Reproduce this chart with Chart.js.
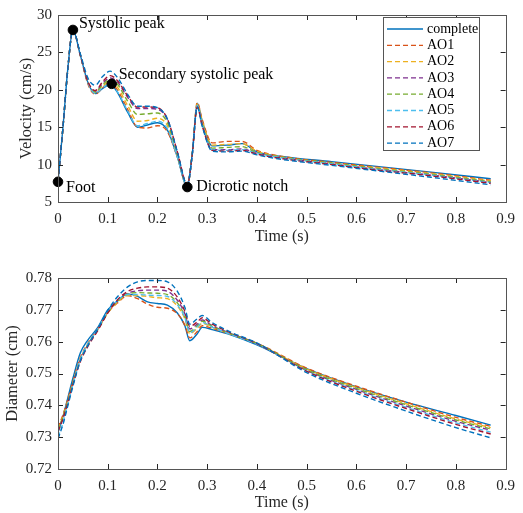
<!DOCTYPE html>
<html>
<head>
<meta charset="utf-8">
<script src="https://cdn.jsdelivr.net/npm/chart.js@4.4.0/dist/chart.umd.min.js"></script>
<style>
  body { margin: 0; background: #fff; }
  canvas { position: absolute; left: 0; }
  #velocityChart { top: 0; }
  #diameterChart { top: 250px; }
</style>
</head>
<body>
<canvas id="velocityChart" width="523" height="250"></canvas>
<canvas id="diameterChart" width="523" height="263"></canvas>
<script>
// series names / colours (MATLAB default order)
const seriesNames = ['complete', 'AO1', 'AO2', 'AO3', 'AO4', 'AO5', 'AO6', 'AO7'];
const seriesColors = ['#0072BD', '#D95319', '#EDB120', '#7E2F8E', '#77AC30', '#4DBEEE', '#A2142F', '#0072BD'];

// velocity (cm/s) vs time (s)
const timeV = [0, 0.01, 0.02, 0.03, 0.045, 0.06, 0.075, 0.09, 0.105, 0.12, 0.14, 0.16, 0.18, 0.2, 0.22, 0.24, 0.26, 0.27, 0.28, 0.29, 0.31, 0.34, 0.37, 0.4, 0.45, 0.55, 0.65, 0.75, 0.87];
const velComplete = [7.7, 15.0, 23.0, 28.0, 24.6, 21.0, 19.5, 20.2, 20.7, 19.6, 17.0, 15.0, 15.3, 15.6, 14.6, 11.0, 7.0, 11.5, 18.2, 15.8, 12.5, 12.6, 12.8, 11.7, 11.1, 10.4, 9.7, 9.0, 8.1];
const velAO1 = [7.7, 15.0, 23.0, 28.0, 24.6, 20.8, 19.4, 20.3, 20.9, 19.9, 17.4, 15.0, 14.9, 15.2, 14.4, 11.0, 7.1, 11.5, 18.3, 16.0, 12.9, 13.1, 13.1, 11.9, 11.1, 10.3, 9.6, 8.9, 7.9];
const velAO2 = [7.7, 15.0, 23.0, 28.0, 24.6, 21.0, 19.6, 20.5, 21.1, 20.3, 17.9, 15.8, 15.9, 16.2, 15.2, 11.2, 7.2, 11.5, 18.1, 15.8, 12.6, 12.7, 12.8, 11.8, 11.0, 10.2, 9.5, 8.8, 7.8];
const velAO3 = [7.7, 15.0, 23.0, 28.0, 24.6, 21.0, 19.8, 20.9, 21.6, 21.0, 19.0, 17.5, 17.5, 17.4, 16.0, 11.6, 7.3, 11.4, 17.8, 15.3, 12.0, 12.0, 12.1, 11.5, 10.9, 10.1, 9.3, 8.6, 7.6];
const velAO4 = [7.7, 15.0, 23.0, 28.0, 24.6, 21.0, 19.7, 20.7, 21.4, 20.7, 18.5, 16.7, 16.8, 16.9, 15.6, 11.4, 7.2, 11.5, 17.9, 15.5, 12.2, 12.3, 12.4, 11.6, 11.0, 10.2, 9.4, 8.7, 7.7];
const velAO5 = [7.7, 15.0, 23.0, 28.0, 24.6, 21.0, 19.5, 20.3, 20.8, 19.7, 17.2, 15.2, 15.5, 15.8, 14.8, 11.0, 7.1, 11.4, 17.9, 15.4, 12.0, 11.9, 12.0, 11.5, 10.9, 10.1, 9.3, 8.6, 7.6];
const velAO6 = [7.7, 15.0, 23.0, 28.0, 24.6, 21.1, 19.9, 21.1, 21.9, 21.2, 19.2, 17.7, 17.7, 17.6, 16.1, 11.7, 7.3, 11.4, 17.7, 15.2, 11.9, 11.8, 11.9, 11.4, 10.8, 10.0, 9.2, 8.5, 7.5];
const velAO7 = [7.7, 15.0, 23.0, 28.0, 24.8, 21.6, 20.6, 21.8, 22.5, 21.6, 19.4, 17.8, 17.8, 17.6, 16.1, 11.7, 7.3, 11.4, 17.7, 15.1, 11.8, 11.7, 11.8, 11.3, 10.7, 9.9, 9.1, 8.3, 7.3];

// annotated points on the velocity curve
const markLabels = ['Foot', 'Systolic peak', 'Secondary systolic peak', 'Dicrotic notch'];
const markTime = [0, 0.03, 0.108, 0.26];
const markVel = [7.7, 28.0, 20.8, 7.0];

// diameter (cm) vs time (s)
const timeD = [0, 0.01, 0.02, 0.03, 0.045, 0.06, 0.08, 0.1, 0.12, 0.14, 0.16, 0.18, 0.2, 0.22, 0.24, 0.255, 0.265, 0.28, 0.29, 0.31, 0.35, 0.4, 0.5, 0.6, 0.7, 0.8, 0.87];
const diaComplete = [0.7315, 0.7365, 0.7425, 0.7485, 0.7565, 0.7605, 0.7645, 0.7700, 0.7728, 0.7750, 0.7742, 0.7725, 0.7720, 0.7715, 0.7690, 0.7650, 0.7603, 0.7625, 0.7645, 0.7638, 0.7620, 0.7590, 0.7515, 0.7458, 0.7410, 0.7368, 0.7338];
const diaAO1 = [0.7330, 0.7370, 0.7420, 0.7475, 0.7550, 0.7595, 0.7640, 0.7692, 0.7722, 0.7745, 0.7735, 0.7718, 0.7708, 0.7705, 0.7688, 0.7652, 0.7612, 0.7632, 0.7650, 0.7642, 0.7622, 0.7595, 0.7517, 0.7460, 0.7410, 0.7362, 0.7334];
const diaAO2 = [0.7325, 0.7365, 0.7415, 0.7470, 0.7545, 0.7592, 0.7638, 0.7690, 0.7725, 0.7745, 0.7745, 0.7742, 0.7738, 0.7735, 0.7712, 0.7672, 0.7625, 0.7642, 0.7658, 0.7645, 0.7622, 0.7594, 0.7514, 0.7456, 0.7405, 0.7357, 0.7330];
const diaAO3 = [0.7320, 0.7360, 0.7410, 0.7468, 0.7542, 0.7588, 0.7638, 0.7692, 0.7730, 0.7752, 0.7760, 0.7762, 0.7762, 0.7758, 0.7730, 0.7688, 0.7640, 0.7655, 0.7668, 0.7650, 0.7624, 0.7594, 0.7510, 0.7450, 0.7398, 0.7350, 0.7322];
const diaAO4 = [0.7322, 0.7362, 0.7412, 0.7470, 0.7544, 0.7590, 0.7638, 0.7691, 0.7728, 0.7750, 0.7754, 0.7753, 0.7752, 0.7748, 0.7722, 0.7680, 0.7632, 0.7650, 0.7664, 0.7648, 0.7623, 0.7594, 0.7512, 0.7453, 0.7402, 0.7354, 0.7326];
const diaAO5 = [0.7300, 0.7345, 0.7405, 0.7465, 0.7545, 0.7592, 0.7640, 0.7695, 0.7730, 0.7748, 0.7748, 0.7746, 0.7745, 0.7742, 0.7716, 0.7676, 0.7628, 0.7646, 0.7660, 0.7646, 0.7621, 0.7592, 0.7508, 0.7447, 0.7394, 0.7345, 0.7316];
const diaAO6 = [0.7318, 0.7358, 0.7408, 0.7465, 0.7538, 0.7585, 0.7635, 0.7690, 0.7732, 0.7758, 0.7768, 0.7772, 0.7772, 0.7768, 0.7740, 0.7695, 0.7648, 0.7662, 0.7675, 0.7655, 0.7626, 0.7594, 0.7507, 0.7444, 0.7390, 0.7340, 0.7310];
const diaAO7 = [0.7295, 0.7340, 0.7400, 0.7460, 0.7540, 0.7588, 0.7640, 0.7698, 0.7742, 0.7772, 0.7788, 0.7792, 0.7792, 0.7788, 0.7758, 0.7708, 0.7655, 0.7672, 0.7682, 0.7660, 0.7628, 0.7596, 0.7503, 0.7438, 0.7382, 0.7330, 0.7298];

const velSeries = [velComplete, velAO1, velAO2, velAO3, velAO4, velAO5, velAO6, velAO7];
const diaSeries = [diaComplete, diaAO1, diaAO2, diaAO3, diaAO4, diaAO5, diaAO6, diaAO7];

const FONT = "'Liberation Serif', 'Times New Roman', serif";
const TEXT = '#262626';

function lineDatasets(time, series) {
    return series.map((vals, i) => ({
        label: seriesNames[i],
        data: vals.map((v, j) => ({ x: time[j], y: v })),
        borderColor: seriesColors[i],
        borderWidth: 1.4,
        borderDash: i == 0 ? [] : [5, 3],
        pointRadius: 0,
        fill: false,
        cubicInterpolationMode: 'monotone',
        order: series.length - i,   // later series drawn on top, like MATLAB
        inLegend: true
    }));
}

// box + inward ticks on all four sides
const framePlugin = {
    id: 'frame',
    afterDatasetsDraw(chart) {
        const ctx = chart.ctx;
        const a = chart.chartArea;
        const xs = chart.scales.x, ys = chart.scales.y;
        ctx.save();
        ctx.strokeStyle = TEXT;
        ctx.lineWidth = 1;
        ctx.beginPath();
        xs.ticks.forEach(t => {
            const px = Math.round(xs.getPixelForValue(t.value)) + 0.5;
            ctx.moveTo(px, a.bottom); ctx.lineTo(px, a.bottom - 5);
            ctx.moveTo(px, a.top); ctx.lineTo(px, a.top + 5);
        });
        ys.ticks.forEach(t => {
            const py = Math.round(ys.getPixelForValue(t.value)) + 0.5;
            ctx.moveTo(a.left, py); ctx.lineTo(a.left + 5, py);
            ctx.moveTo(a.right, py); ctx.lineTo(a.right - 5, py);
        });
        ctx.stroke();
        ctx.strokeStyle = '#555';
        ctx.strokeRect(Math.round(a.left) + 0.5, Math.round(a.top) + 0.5, Math.round(a.right - a.left), Math.round(a.bottom - a.top));
        ctx.restore();
    }
};

// text next to the black marker dots
const markOffsets = [[8, 6], [6, -6], [7, -9], [9, 0]];
const markTextPlugin = {
    id: 'markText',
    afterDatasetsDraw(chart) {
        const idx = chart.data.datasets.findIndex(d => d.isMarks);
        if (idx < 0) return;
        const ctx = chart.ctx;
        const meta = chart.getDatasetMeta(idx);
        ctx.save();
        ctx.font = '16px ' + FONT;
        ctx.fillStyle = '#000';
        ctx.textAlign = 'left';
        ctx.textBaseline = 'middle';
        meta.data.forEach((pt, i) => {
            ctx.fillText(markLabels[i], pt.x + markOffsets[i][0], pt.y + markOffsets[i][1]);
        });
        ctx.restore();
    }
};

// MATLAB-style legend box in the upper right
const legendPlugin = {
    id: 'boxLegend',
    afterDraw(chart) {
        const ctx = chart.ctx;
        const items = chart.data.datasets.filter(d => d.inLegend);
        const x0 = 383, y0 = 17, w = 96, h = 133;
        ctx.save();
        ctx.fillStyle = '#fff';
        ctx.fillRect(x0, y0, w, h);
        ctx.strokeStyle = '#555';
        ctx.lineWidth = 1;
        ctx.strokeRect(x0 + 0.5, y0 + 0.5, w, h);
        ctx.font = '14px ' + FONT;
        ctx.textBaseline = 'middle';
        items.forEach((d, i) => {
            const y = y0 + 12 + i * 16.3;
            ctx.beginPath();
            ctx.strokeStyle = d.borderColor;
            ctx.lineWidth = 1.3;
            ctx.setLineDash(d.borderDash);
            ctx.moveTo(x0 + 4, y);
            ctx.lineTo(x0 + 40, y);
            ctx.stroke();
            ctx.setLineDash([]);
            ctx.fillStyle = '#000';
            ctx.fillText(d.label, x0 + 44, y);
        });
        ctx.restore();
    }
};

function axisOptions(yMin, yMax, yStep, yTitle, yDigits, yTitlePad, xTitlePad, xHeight) {
    return {
        x: {
            type: 'linear',
            min: 0, max: 0.9,
            grid: { display: false, drawTicks: false },
            border: { display: false },
            ticks: {
                stepSize: 0.1,
                padding: 8,
                color: TEXT,
                font: { family: FONT, size: 15 },
                maxRotation: 0,
                callback: v => Number(v.toFixed(1)).toString()
            },
            title: {
                display: true, text: 'Time (s)', color: TEXT,
                font: { family: FONT, size: 16 },
                padding: { top: 0, bottom: xTitlePad }
            },
            afterFit: s => { s.height = xHeight; }
        },
        y: {
            type: 'linear',
            min: yMin, max: yMax,
            grid: { display: false, drawTicks: false },
            border: { display: false },
            ticks: {
                stepSize: yStep,
                padding: 6,
                color: TEXT,
                font: { family: FONT, size: 15 },
                callback: v => v.toFixed(yDigits)
            },
            title: {
                display: true, text: yTitle, color: TEXT,
                font: { family: FONT, size: 16.5 },
                padding: { top: yTitlePad, bottom: 0 }
            },
            afterFit: s => { s.width = 58; }
        }
    };
}

const velDatasets = lineDatasets(timeV, velSeries);
velDatasets.push({
    label: 'marks',
    data: markTime.map((t, i) => ({ x: t, y: markVel[i] })),
    showLine: false,
    pointRadius: 4.8,
    pointBackgroundColor: '#000',
    pointBorderColor: '#000',
    order: 0,
    isMarks: true,
    clip: false
});

new Chart(document.getElementById('velocityChart').getContext('2d'), {
    type: 'line',
    data: { datasets: velDatasets },
    options: {
        responsive: false,
        animation: false,
        layout: { padding: { top: 11, right: 15, left: 0, bottom: 0 } },
        plugins: { legend: { display: false }, tooltip: { enabled: false } },
        scales: axisOptions(5, 30, 5, 'Velocity (cm/s)', 0, 17, 3.4, 48)
    },
    plugins: [framePlugin, markTextPlugin, legendPlugin]
});

new Chart(document.getElementById('diameterChart').getContext('2d'), {
    type: 'line',
    data: { datasets: lineDatasets(timeD, diaSeries) },
    options: {
        responsive: false,
        animation: false,
        layout: { padding: { top: 28, right: 15, left: 0, bottom: 0 } },
        plugins: { legend: { display: false }, tooltip: { enabled: false } },
        scales: axisOptions(0.72, 0.78, 0.01, 'Diameter (cm)', 2, 3, 0.5, 44)
    },
    plugins: [framePlugin]
});
</script>
</body>
</html>
